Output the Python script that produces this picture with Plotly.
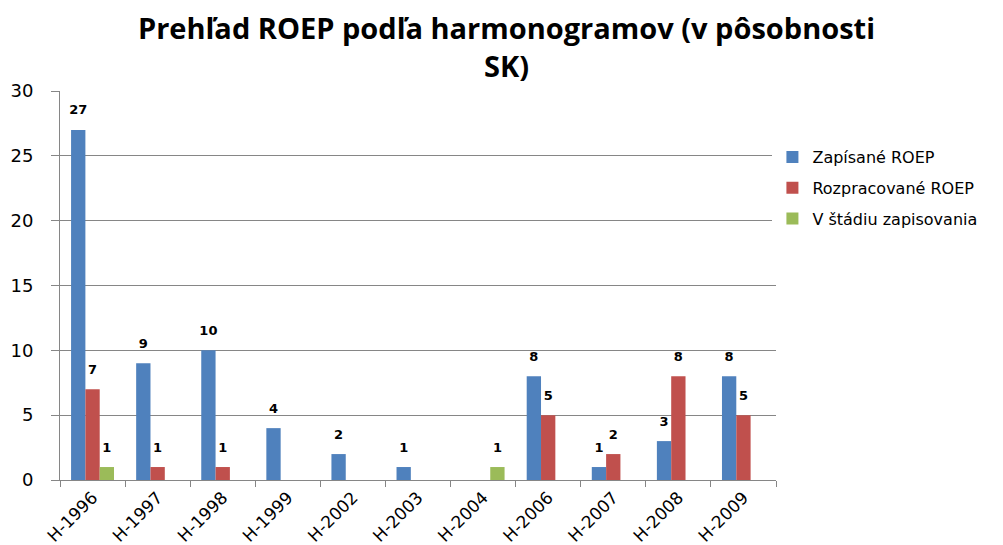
import plotly.graph_objects as go

categories = ["H-1996", "H-1997", "H-1998", "H-1999", "H-2002", "H-2003",
              "H-2004", "H-2006", "H-2007", "H-2008", "H-2009"]
zapisane = [27, 9, 10, 4, 2, 1, None, 8, 1, 3, 8]
rozpracovane = [7, 1, 1, None, None, None, None, 5, 2, 8, 5]
v_stadiu = [1, None, None, None, None, None, 1, None, None, None, None]

series = [
    ("Zapísané ROEP", zapisane, "#4F81BD"),
    ("Rozpracované ROEP", rozpracovane, "#C0504D"),
    ("V štádiu zapisovania", v_stadiu, "#9BBB59"),
]

fig = go.Figure()
for i, (name, vals, col) in enumerate(series):
    fig.add_trace(go.Bar(
        x=categories, y=vals, name=name, legendgroup=f"g{i}",
        offsetgroup=str(i),
        marker=dict(color=col, line=dict(width=0)),
    ))
for i, (name, vals, col) in enumerate(series):
    fig.add_trace(go.Scatter(
        x=categories, y=vals, mode="markers+text", showlegend=False,
        offsetgroup=str(i),
        marker=dict(size=18, opacity=0, color=col),
        text=[("" if v is None else str(v)) for v in vals],
        textposition="top center", cliponaxis=False, hoverinfo="skip",
        textfont=dict(family="DejaVu Sans", size=13, color="#000000", weight="bold"),
    ))

fig.update_layout(
    width=1003, height=545,
    barmode="group", bargap=0.34, bargroupgap=0,
    scattermode="group", scattergap=0.34,
    plot_bgcolor="white", paper_bgcolor="white",
    margin=dict(l=52, r=235, t=83, b=73, autoexpand=False),
    title=dict(
        text="Prehľad ROEP podľa harmonogramov (v pôsobnosti<br>SK)",
        x=0.497, xanchor="center", y=1 - 31 / 545, yanchor="middle", automargin=False,
        font=dict(family="Open Sans", size=29, color="#000000", weight="bold"),
    ),
    legend=dict(
        x=0.995, xanchor="left", y=1 - (140 - 91) / 389, yanchor="top",
        font=dict(family="DejaVu Sans", size=16, color="#000000"),
        tracegroupgap=7, itemsizing="constant", itemwidth=30,
    ),
    showlegend=True,
)
fig.update_xaxes(
    showline=True, linecolor="#868686", linewidth=1, automargin=False,
    ticks="outside", tickson="boundaries", ticklen=6, tickcolor="#868686",
    tickangle=-45, showgrid=False,
    tickfont=dict(family="DejaVu Sans", size=17, color="#000000"),
)
fig.update_yaxes(
    range=[0, 30], dtick=5, showline=True, linecolor="#868686", linewidth=1,
    automargin=False,
    ticks="outside", ticklen=8, tickcolor="#868686",
    showgrid=True, gridcolor="#868686", gridwidth=1, zeroline=False,
    tickfont=dict(family="DejaVu Sans", size=18, color="#000000"),
    ticklabelstandoff=14,
)

fig.write_html("out.html")
